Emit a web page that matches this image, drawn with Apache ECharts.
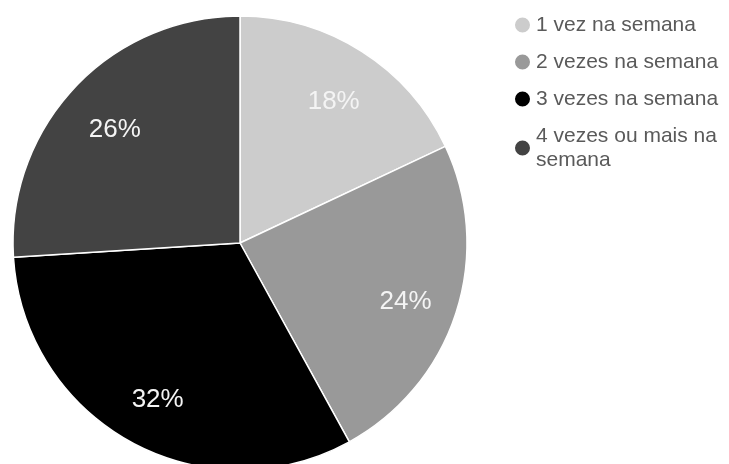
<!DOCTYPE html>
<html>
<head>
<meta charset="utf-8">
<script src="https://cdn.jsdelivr.net/npm/echarts@6/dist/echarts.min.js"></script>
<style>
  html, body { margin: 0; padding: 0; background: #ffffff; }
  #chart { width: 729px; height: 464px; }
</style>
</head>
<body>
<div id="chart"></div>
<script>
// Frequency categories and their shares (%)
const categories = [
  '1 vez na semana',
  '2 vezes na semana',
  '3 vezes na semana',
  '4 vezes ou mais na semana'
];
const shares = [18, 24, 32, 26];
const sliceColors = ['#cccccc', '#999999', '#000000', '#434343'];

const pieData = categories.map((name, i) => ({
  name: name,
  value: shares[i],
  itemStyle: { color: sliceColors[i] }
}));

const chart = echarts.init(document.getElementById('chart'), null, { renderer: 'canvas' });

chart.setOption({
  animation: false,
  backgroundColor: '#ffffff',
  legend: {
    orient: 'vertical',
    left: 508,
    top: 8,
    itemWidth: 17,
    itemHeight: 17,
    itemGap: 13,
    icon: 'circle',
    data: categories,
    textStyle: {
      fontFamily: 'Liberation Sans, Arial, sans-serif',
      fontSize: 21,
      lineHeight: 24,
      color: '#5a5a5a',
      width: 192,
      overflow: 'break'
    }
  },
  series: [
    {
      // the filled slices
      type: 'pie',
      center: [240, 243],
      radius: [0, 227],
      startAngle: 90,
      clockwise: true,
      label: { show: false },
      labelLine: { show: false },
      itemStyle: { borderColor: '#ffffff', borderWidth: 1.5 },
      emphasis: { disabled: true },
      data: pieData
    },
    {
      // transparent ring carrying the percentage labels
      type: 'pie',
      center: [240, 243],
      radius: [113, 227],
      startAngle: 90,
      clockwise: true,
      silent: true,
      emphasis: { disabled: true },
      itemStyle: { color: 'rgba(0,0,0,0)', borderWidth: 0 },
      label: {
        show: true,
        position: 'inside',
        formatter: '{c}%',
        color: '#f4f4f4',
        fontFamily: 'Liberation Sans, Arial, sans-serif',
        fontSize: 26,
        offset: [1, 5]
      },
      labelLine: { show: false },
      data: categories.map((name, i) => ({ name: name, value: shares[i] }))
    }
  ]
});
</script>
</body>
</html>
